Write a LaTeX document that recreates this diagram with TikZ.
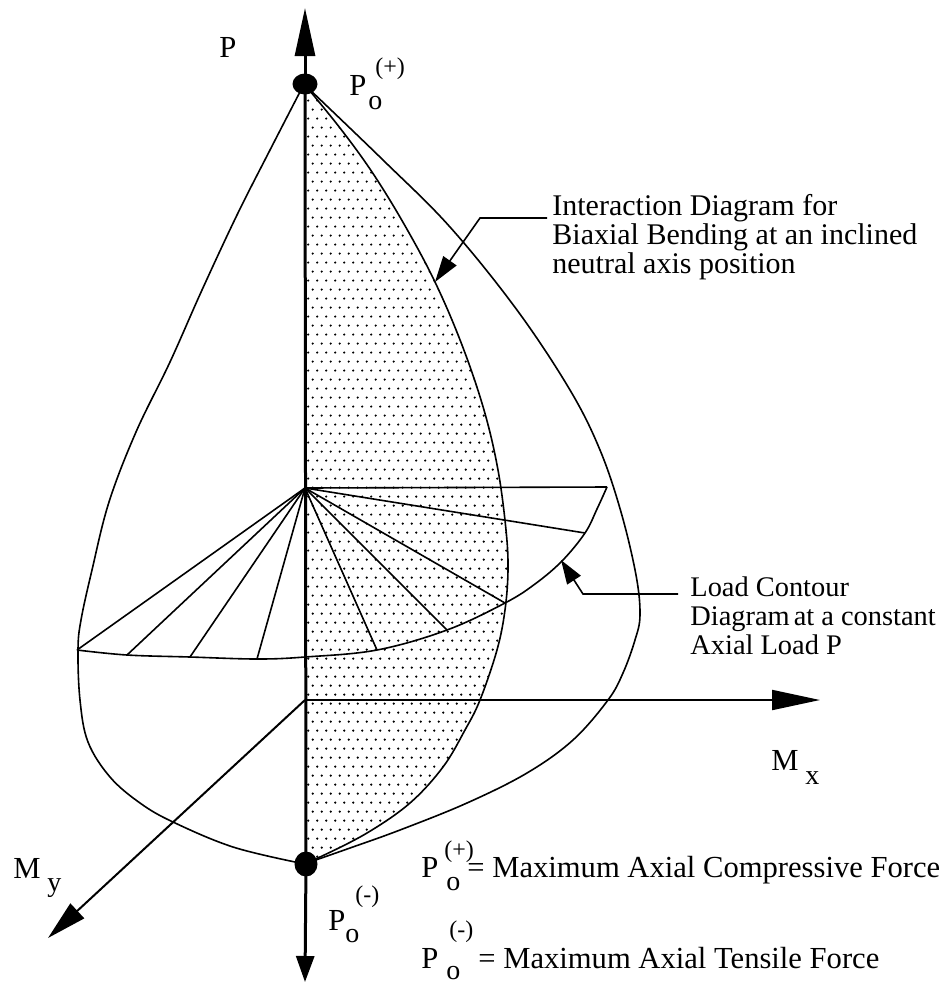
\documentclass[tikz,border=0pt]{standalone}
\usepackage{fontspec}
\setmainfont{Liberation Serif}
\usetikzlibrary{arrows.meta,patterns,shapes.geometric}

\pgfdeclarepatternformonly{sdots}{\pgfqpoint{-1pt}{-1pt}}{\pgfqpoint{5.5pt}{10pt}}{\pgfqpoint{4.5pt}{9pt}}{%
  \pgfpathcircle{\pgfqpoint{1.1pt}{2.2pt}}{0.6pt}%
  \pgfpathcircle{\pgfqpoint{3.35pt}{6.7pt}}{0.6pt}%
  \pgfusepath{fill}}

\begin{document}
\begin{tikzpicture}[x=0.5pt,y=-0.5pt,
  curve/.style={line width=0.8pt, line join=round},
  paxis/.style={line width=1.5pt},
  maxis/.style={line width=1pt},
  fan/.style={line width=0.8pt},
  leader/.style={line width=0.8pt},
  lbl/.style={inner sep=0pt, anchor=base west, font=\fontsize{15.3}{15}\selectfont},
  subl/.style={inner sep=0pt, anchor=base west, font=\fontsize{14}{14}\selectfont},
  supl/.style={inner sep=0pt, anchor=base west, font=\fontsize{12}{12}\selectfont},
  note/.style={inner sep=0pt, anchor=base west, font=\fontsize{15}{15}\selectfont},
  cnote/.style={inner sep=0pt, anchor=base west, font=\fontsize{14.2}{14}\selectfont},
  bigdot/.style={ellipse, fill=black, inner sep=0pt}]

\path[use as bounding box] (0,0) rectangle (951,987);

% key points
\coordinate (Ptip) at (305,8);
\coordinate (Pbot) at (305,982);
\coordinate (O) at (305,700);
\coordinate (Mxtip) at (820,700);
\coordinate (Mytip) at (48,938);
\coordinate (hub) at (305,488);

% shaded interaction diagram
\def\shadedpts{(305,85) (340,128) (372,172) (404,224) (435,282) (462,345) (484,410) (498,470) (506,530) (508,570) (505,610) (497,650) (480,700) (465,730) (443,767) (410,803) (367,833) (320,857) (306,862)}
\fill[pattern=sdots] plot[smooth, tension=0.6] coordinates {\shadedpts} -- cycle;
\draw[curve] plot[smooth, tension=0.6] coordinates {\shadedpts};

% outer left curve
\draw[curve] plot[smooth, tension=0.6] coordinates {(302,88) (270,150) (237,215) (202,290) (170,362) (136,432) (109,502) (92,570) (81,620) (78,650) (80,700) (88,742) (110,777) (140,803) (173,822) (233,847) (300,863)};
% outer right curve
\draw[curve] plot[smooth, tension=0.6] coordinates {(308,88) (383,160) (450,227) (517,310) (570,390) (600,450) (621,512) (636,575) (640,615) (635,640) (623,673) (608,700) (573,740) (527,773) (467,803) (400,830) (350,848) (310,862)};

% load contour
\coordinate (r0) at (607,487);
\coordinate (r1) at (585,533);
\coordinate (r2) at (505,603);
\coordinate (r3) at (447,630);
\coordinate (r4) at (377,650);
\coordinate (l1) at (257,659);
\coordinate (l2) at (190,657);
\coordinate (l3) at (127,655);
\coordinate (l4) at (77,650);
\draw[curve] plot[smooth, tension=0.6] coordinates {(607,487) (597,509) (585,533) (562,561) (535,584) (505,603) (447,630) (377,650) (305,657) (257,659) (190,657) (127,655) (77,650)};
\foreach \e in {r0,r1,r2,r3,r4,l1,l2,l3,l4} \draw[fan] (hub) -- (\e);

% dots
\node[bigdot, minimum width=12.5pt, minimum height=10.5pt] (topdot) at (305,84) {};
\node[bigdot, minimum width=11.5pt, minimum height=12.5pt] (botdot) at (306,864) {};

% P axis
\draw[paxis] (topdot.center) -- (botdot.center);
\draw[paxis, -{Triangle[length=24pt,width=10pt]}] (topdot.center) -- (Ptip);
\draw[paxis, -{Triangle[length=13pt,width=9pt]}] (botdot.center) -- (Pbot);

% moment axes
\draw[maxis, -{Triangle[length=24pt,width=10pt]}] (O) -- (Mxtip);
\draw[maxis, -{Triangle[length=20pt,width=10pt]}] (O) -- (Mytip);

% leaders
\coordinate (IL1) at (547,218);
\coordinate (IL2) at (480,218);
\coordinate (ITip) at (435,282);
\draw[leader, -{Triangle[length=13pt,width=8pt]}] (IL1) -- (IL2) -- (ITip);
\coordinate (LL1) at (678,594);
\coordinate (LL2) at (583,594);
\coordinate (LTip) at (561,560);
\draw[leader, -{Triangle[length=12pt,width=8pt]}] (LL1) -- (LL2) -- (LTip);

% labels
\node[lbl] (Plabel) at (219,57) {P};
\node[lbl] (poP) at (349,95) {P};
\node[subl] (poO) at (368,109) {o};
\node[supl] (poPlus) at (375,74) {(+)};

\node[lbl] (pmP) at (328,930) {P};
\node[subl] (pmO) at (345,942) {o};
\node[supl] (pmMinus) at (355,902) {(-)};

\node[lbl] (MyM) at (13,878) {M};
\node[subl] (Myy) at (47,891) {y};
\node[lbl] (MxM) at (771,770) {M};
\node[subl] (Mxx) at (805,784) {x};

\node[note] (i1) at (552,215) {Interaction Diagram for};
\node[note] (i2) at (552,244) {Biaxial Bending at an inclined};
\node[note] (i3) at (552,273) {neutral axis position};

\node[cnote] (c1) at (690,596) {Load Contour};
\node[cnote] (c2) at (690,625) {Diagram\hspace{2pt}at a constant};
\node[cnote] (c3) at (690,654) {Axial Load P};

\node[lbl] (l1P) at (421,877) {P};
\node[subl] (l1o) at (446,890) {o};
\node[supl] (l1s) at (444,857) {(+)};
\node[lbl] (l1t) at (467,877) {= Maximum Axial Compressive Force};

\node[lbl] (l2P) at (421,968) {P};
\node[subl] (l2o) at (446,979) {o};
\node[supl] (l2s) at (449,937) {(-)};
\node[lbl] (l2t) at (478,968) {= Maximum Axial Tensile Force};
\end{tikzpicture}
\end{document}
